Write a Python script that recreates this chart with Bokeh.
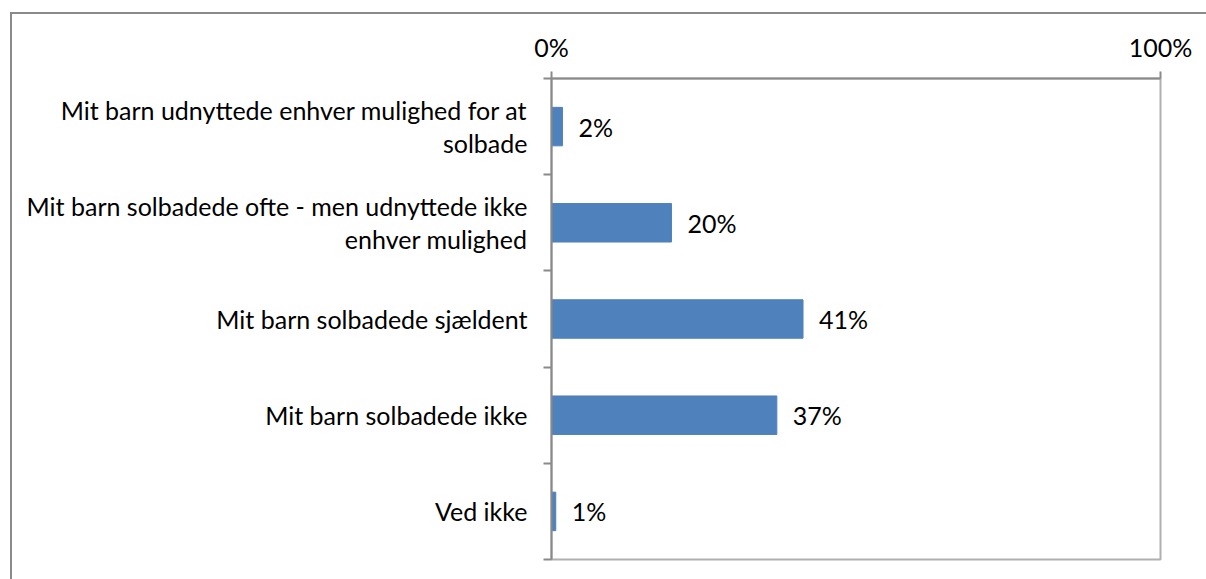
from bokeh.plotting import figure
from bokeh.models import (Range1d, FixedTicker, LinearAxis, ColumnDataSource,
                          LabelSet)
from bokeh.core.properties import value
from bokeh.embed import file_html
from bokeh.resources import INLINE

categories = [
    "Mit barn udnyttede enhver mulighed for at\nsolbade",
    "Mit barn solbadede ofte - men udnyttede ikke\nenhver mulighed",
    "Mit barn solbadede sjældent",
    "Mit barn solbadede ikke",
    "Ved ikke",
]
values = [1.8, 19.7, 41.3, 37.0, 0.7]
x_ticks = [0, 100]
x_tick_labels = ["0%", "100%"]

FONT = "Lato"
FS = "25px"

n = len(categories)
centers = [i + 0.5 for i in range(n)]
labels = [f"{round(v)}%" for v in values]
src = ColumnDataSource(dict(y=centers, v=values, lab=labels))

p = figure(width=1206, height=579, frame_width=609, frame_height=481,
           min_border_left=551, min_border_top=78, min_border_right=46,
           min_border_bottom=20,
           x_range=Range1d(0, 100), y_range=Range1d(n, 0),
           output_backend="svg", toolbar_location=None,
           x_axis_location=None, y_axis_location=None)
p.grid.visible = False
p.background_fill_color = "white"
p.border_fill_color = None
p.outline_line_color = "#b0b0b0"
p.outline_line_width = 2
p.styles = {
    "background": ("linear-gradient(#8a8a8a,#8a8a8a) 10px 12px / 2px 100% no-repeat, "
                   "linear-gradient(#8a8a8a,#8a8a8a) 10px 12px / 100% 2px no-repeat, "
                   "white"),
}

p.hbar(y="y", right="v", left=0, height=0.4, source=src,
       fill_color="#4F81BD", line_color="#4F81BD")

# top value axis
xa = LinearAxis(ticker=FixedTicker(ticks=x_ticks, minor_ticks=[]),
                major_label_overrides={t: s for t, s in zip(x_ticks, x_tick_labels)})
xa.axis_line_color = "#8a8a8a"
xa.axis_line_width = 2
xa.major_tick_line_color = "#8a8a8a"
xa.major_tick_line_width = 2
xa.major_tick_in = 0
xa.major_tick_out = 7
xa.minor_tick_line_color = None
xa.major_label_standoff = 10
xa.major_label_text_font = FONT
xa.major_label_text_font_size = FS
xa.major_label_text_color = "#000000"
p.add_layout(xa, "above")

# left category axis: labels at band centres, ticks at band boundaries
ya = LinearAxis(ticker=FixedTicker(ticks=centers, minor_ticks=list(range(n + 1))),
                major_label_overrides={c: s for c, s in zip(centers, categories)})
ya.axis_line_color = "#8a8a8a"
ya.axis_line_width = 2
ya.major_tick_line_color = None
ya.major_tick_in = 0
ya.major_tick_out = 0
ya.minor_tick_line_color = "#8a8a8a"
ya.minor_tick_line_width = 2
ya.minor_tick_in = 0
ya.minor_tick_out = 8
ya.major_label_standoff = 16
ya.major_label_text_font = FONT
ya.major_label_text_font_size = FS
ya.major_label_text_color = "#000000"
ya.major_label_text_line_height = 1.1
p.add_layout(ya, "left")

# data labels
p.add_layout(LabelSet(x="v", y="y", text="lab", source=src, x_offset=16,
                      text_baseline="middle", text_align="left",
                      text_font=value(FONT), text_font_size=value(FS),
                      text_color="#000000"))

open("out.html", "w").write(file_html(p, INLINE))
